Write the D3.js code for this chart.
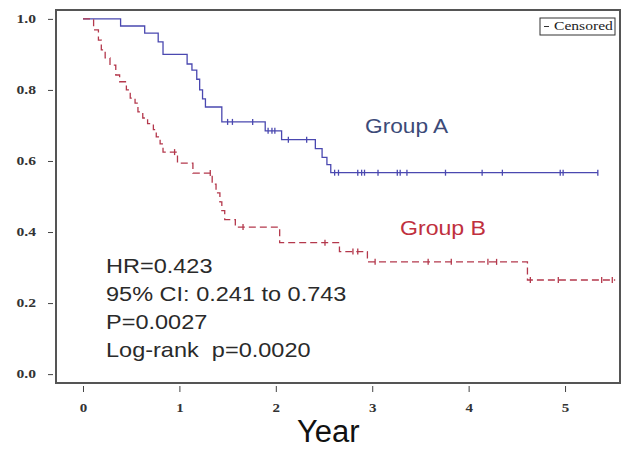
<!DOCTYPE html>
<html>
<head>
<meta charset="utf-8">
<script src="https://cdn.jsdelivr.net/npm/d3@7/dist/d3.min.js"></script>
<style>
  body { margin: 0; background: #fff; }
  svg { display: block; }
  .tick text { font-family: "Liberation Serif", "DejaVu Serif", serif; font-weight: bold; font-size: 12px; fill: #333; }
  .tick line { stroke: #444; }
</style>
</head>
<body>
<svg id="chart"></svg>
<script>
// Kaplan-Meier steps
var timesA = [0, 0.39, 0.64, 0.78, 0.83, 1.08, 1.13, 1.18, 1.21, 1.24, 1.27, 1.44, 1.89, 2.06, 2.41, 2.48, 2.53, 2.57, 5.34];
var survA  = [1.0, 0.98, 0.96, 0.935, 0.90, 0.873, 0.856, 0.83, 0.80, 0.775, 0.752, 0.71, 0.685, 0.66, 0.635, 0.61, 0.59, 0.567, 0.567];
var censA  = [1.50, 1.55, 1.76, 1.92, 1.96, 1.99, 2.13, 2.32, 2.61, 2.65, 2.85, 2.89, 2.92, 3.06, 3.26, 3.29, 3.36, 3.76, 4.14, 4.35, 4.95, 4.98, 5.34];

var timesB = [0, 0.11, 0.16, 0.19, 0.23, 0.28, 0.34, 0.38, 0.45, 0.49, 0.54, 0.57, 0.62, 0.67, 0.73, 0.76, 0.80, 0.83, 0.98, 1.14, 1.34, 1.38, 1.42, 1.44, 1.47, 1.58, 2.04, 2.66, 2.95, 4.61, 5.52];
var survB  = [1.0, 0.969, 0.94, 0.913, 0.89, 0.87, 0.842, 0.823, 0.80, 0.777, 0.763, 0.738, 0.721, 0.705, 0.688, 0.668, 0.648, 0.625, 0.594, 0.566, 0.535, 0.51, 0.485, 0.46, 0.435, 0.414, 0.37, 0.345, 0.316, 0.265, 0.265];
var censB  = [0.95, 1.32, 1.66, 2.51, 2.80, 2.85, 3.03, 3.58, 3.82, 4.20, 4.29, 4.64, 4.93, 5.38, 5.49];

var xTicks = [0, 1, 2, 3, 4, 5];
var yTicks = [0, 0.2, 0.4, 0.6, 0.8, 1.0];
var statLines = ["HR=0.423", "95% CI: 0.241 to 0.743", "P=0.0027", "Log-rank  p=0.0020"];

var width = 623, height = 450;
var svg = d3.select("#chart").attr("width", width).attr("height", height);

var x = d3.scaleLinear().domain([-0.28, 5.57]).range([56, 620]);
var y = d3.scaleLinear().domain([-0.025, 1.025]).range([383, 10]);

// axes (ticks sit just outside the frame); the labels in the picture are stretched sideways
var yAxis = svg.append("g")
    .attr("transform", "translate(53,0)")
    .call(d3.axisLeft(y).tickValues(yTicks).tickSize(5).tickPadding(12).tickFormat(d3.format(".1f")));
yAxis.select(".domain").remove();
yAxis.selectAll(".tick text").attr("x", 0).attr("transform", "translate(-17,0) scale(1.3,1)");

var xAxis = svg.append("g")
    .attr("transform", "translate(0,386)")
    .call(d3.axisBottom(x).tickValues(xTicks).tickSize(6).tickPadding(11).tickFormat(d3.format("d")));
xAxis.select(".domain").remove();
xAxis.selectAll(".tick text").attr("transform", "scale(1.25,1)");

// frame
svg.append("rect")
    .attr("x", x.range()[0]).attr("y", y.range()[1])
    .attr("width", x.range()[1] - x.range()[0])
    .attr("height", y.range()[0] - y.range()[1])
    .attr("fill", "none").attr("stroke", "#555").attr("stroke-width", 2);

function stepAt(times, surv, t) {
    var i = d3.bisectRight(times, t) - 1;
    return surv[Math.max(0, i)];
}

var line = d3.line()
    .x(function(d) { return x(d[0]); })
    .y(function(d) { return y(d[1]); })
    .curve(d3.curveStepAfter);

function drawCurve(times, surv, cens, color, dash) {
    var pts = times.map(function(t, i) { return [t, surv[i]]; });
    svg.append("path")
        .attr("d", line(pts))
        .attr("fill", "none")
        .attr("stroke", color)
        .attr("stroke-width", 1.3)
        .attr("stroke-dasharray", dash);

    svg.append("g").selectAll("line")
        .data(cens)
        .enter().append("line")
        .attr("x1", function(d) { return x(d); })
        .attr("x2", function(d) { return x(d); })
        .attr("y1", function(d) { return y(stepAt(times, surv, d)) - 3; })
        .attr("y2", function(d) { return y(stepAt(times, surv, d)) + 3; })
        .attr("stroke", color)
        .attr("stroke-width", 1.3);
}

drawCurve(timesA, survA, censA, "#4a48b0", null);
drawCurve(timesB, survB, censB, "#b4384c", "7,4");

// group labels
svg.append("text").attr("x", 365).attr("y", 133)
    .style("font-family", "Liberation Sans, Arial, sans-serif").style("font-size", "21px")
    .attr("transform", "translate(365,0) scale(1.08,1) translate(-365,0)")
    .attr("fill", "#3c4a78").text("Group A");
svg.append("text").attr("x", 400).attr("y", 235)
    .style("font-family", "Liberation Sans, Arial, sans-serif").style("font-size", "21px")
    .attr("transform", "translate(400,0) scale(1.1,1) translate(-400,0)")
    .attr("fill", "#c0303e").text("Group B");

// statistics block
svg.append("g")
    .attr("transform", "translate(106,0) scale(1.12,1)")
    .selectAll("text")
    .data(statLines)
    .enter().append("text")
    .attr("x", 0)
    .attr("y", function(d, i) { return 273 + i * 28; })
    .style("font-family", "Liberation Sans, Arial, sans-serif").style("font-size", "21px")
    .style("white-space", "pre")
    .attr("fill", "#2a2a2a")
    .text(function(d) { return d; });

// legend
var lg = svg.append("g").attr("transform", "translate(540,18)");
lg.append("rect").attr("width", 75).attr("height", 17)
    .attr("fill", "#fff").attr("stroke", "#333").attr("stroke-width", 1);
lg.append("line").attr("x1", 4).attr("x2", 9).attr("y1", 8.5).attr("y2", 8.5).attr("stroke", "#333");
lg.append("text").attr("x", 0).attr("y", 12.5)
    .attr("transform", "translate(14,0) scale(1.3,1)")
    .style("font-family", "Liberation Serif, serif").style("font-size", "12px")
    .attr("fill", "#222").text("Censored");

// axis title
svg.append("text").attr("x", 297).attr("y", 442)
    .style("font-family", "Liberation Sans, Arial, sans-serif").style("font-size", "31px")
    .attr("fill", "#111").text("Year");
</script>
</body>
</html>
